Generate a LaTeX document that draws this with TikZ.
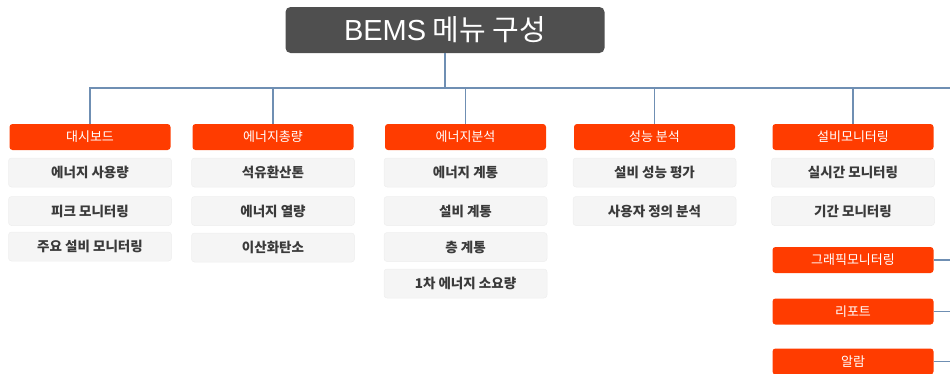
\documentclass[tikz,border=0pt]{standalone}
\usepackage{fontspec}
\setmainfont{Noto Sans CJK KR}
\newfontfamily\titlelatin{Liberation Sans}
\definecolor{titlegray}{HTML}{4F4F4F}
\definecolor{menuorange}{HTML}{FF3C00}
\definecolor{subgray}{HTML}{F5F5F5}
\definecolor{subborder}{HTML}{EEEEEE}
\definecolor{subtext}{HTML}{3A3A3A}
\definecolor{linkblue}{HTML}{6F8FB3}
\tikzset{
  titlebox/.style={fill=titlegray, rounded corners=5pt, minimum width=319pt, minimum height=46pt, inner sep=0pt, text=white, font=\fontsize{29}{33}\selectfont},
  menubox/.style={fill=menuorange, rounded corners=3pt, minimum width=161pt, minimum height=26pt, inner sep=0pt, text=white, font=\fontsize{13}{15}\selectfont},
  subbox/.style={fill=subgray, draw=subborder, line width=0.5pt, rounded corners=3pt, minimum width=163pt, minimum height=29pt, inner sep=0pt, text=subtext, font=\fontsize{13.5}{15}\selectfont\bfseries},
  link/.style={draw=linkblue, line width=1.3pt}
}
\begin{document}
\begin{tikzpicture}[x=1pt,y=-1pt]
\useasboundingbox (0,0) rectangle (950,373);
\clip (0,0) rectangle (950,373);
\node[titlebox] (title) at (445,30) {{\titlelatin BEMS} 메뉴 구성};
\coordinate (busR) at (950,88);
% level 1
\node[menubox] (m1) at (90,137) {대시보드};
\node[menubox] (m2) at (273,137) {에너지총량};
\node[menubox] (m3) at (465.5,137) {에너지분석};
\node[menubox] (m4) at (654.5,137) {성능 분석};
\node[menubox] (m5) at (853,137) {설비모니터링};
% column 1
\node[subbox] (a1) at (90,172.5) {에너지 사용량};
\node[subbox] (a2) at (90,211) {피크 모니터링};
\node[subbox] (a3) at (90,246.5) {주요 설비 모니터링};
% column 2
\node[subbox] (b1) at (273,172.5) {석유환산톤};
\node[subbox] (b2) at (273,211) {에너지 열량};
\node[subbox] (b3) at (273,247.5) {이산화탄소};
% column 3
\node[subbox] (c1) at (465.5,172.5) {에너지 계통};
\node[subbox] (c2) at (465.5,211) {설비 계통};
\node[subbox] (c3) at (465.5,247) {층 계통};
\node[subbox] (c4) at (465.5,283.5) {1차 에너지 소요량};
% column 4
\node[subbox] (d1) at (654.5,172.5) {설비 성능 평가};
\node[subbox] (d2) at (654.5,211) {사용자 정의 분석};
% column 5
\node[subbox] (e1) at (853,172.5) {실시간 모니터링};
\node[subbox] (e2) at (853,211) {기간 모니터링};
\node[menubox] (g1) at (853,260) {그래픽모니터링};
\node[menubox] (g2) at (853,311.5) {리포트};
\node[menubox] (g3) at (853,361.5) {알람};
% connectors
\draw[link] (title.south) -- (title.south |- busR);
\draw[link] (m1.north) |- (busR);
\draw[link] (m2.north) -- (m2.north |- busR);
\draw[link] (m3.north) -- (m3.north |- busR);
\draw[link] (m4.north) -- (m4.north |- busR);
\draw[link] (m5.north) -- (m5.north |- busR);
\draw[link] (g1.east) -- (g1.east -| busR);
\draw[link] (g2.east) -- (g2.east -| busR);
\draw[link] (g3.east) -- (g3.east -| busR);
\end{tikzpicture}
\end{document}
